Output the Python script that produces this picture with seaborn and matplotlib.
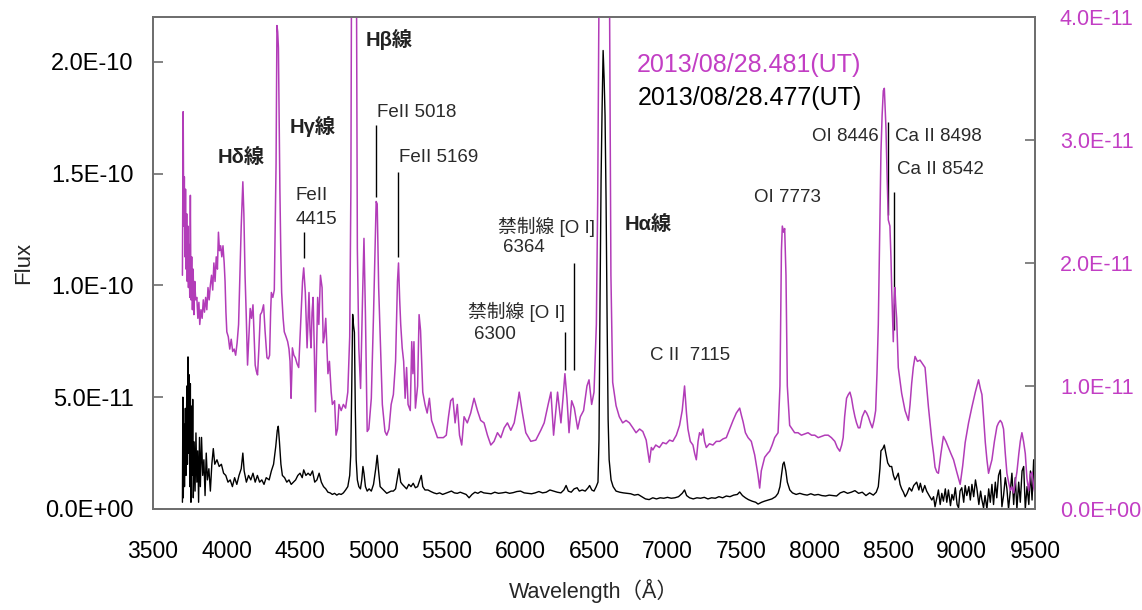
import numpy as np
import pandas as pd
import matplotlib
matplotlib.use("Agg")
import matplotlib.pyplot as plt
from matplotlib.ticker import FuncFormatter
import seaborn as sns

# ---- spectrum 2013/08/28.477 (UT), left axis, flux in units of 1e-11 ----
wl_477 = [
    3700, 3703, 3706, 3710, 3714, 3720, 3724, 3730, 3734, 3738, 3742, 3746, 3750, 3754,
    3758, 3762, 3766, 3770, 3774, 3780, 3786, 3792, 3798, 3804, 3810, 3816, 3822, 3830,
    3838, 3846, 3854, 3862, 3870, 3880, 3890, 3900, 3910, 3920, 3935, 3950, 3965, 3980,
    3995, 4010, 4025, 4040, 4055, 4070, 4085, 4100, 4111, 4120, 4135, 4150, 4165, 4180,
    4195, 4210, 4225, 4240, 4255, 4270, 4290, 4305, 4320, 4335, 4345, 4352, 4360, 4370,
    4380, 4395, 4410, 4425, 4440, 4455, 4470, 4485, 4500, 4515, 4525, 4540, 4555, 4570,
    4585, 4600, 4615, 4630, 4645, 4660, 4675, 4690, 4705, 4720, 4735, 4750, 4765, 4780,
    4795, 4810, 4825, 4838, 4845, 4852, 4858, 4864, 4870, 4876, 4882, 4890, 4900, 4911,
    4920, 4928, 4935, 4945, 4957, 4970, 4985, 5000, 5015, 5025, 5033, 5045, 5060, 5075,
    5090, 5105, 5120, 5135, 5150, 5163, 5173, 5185, 5196, 5210, 5225, 5240, 5255, 5270,
    5285, 5300, 5315, 5325, 5335, 5350, 5370, 5390, 5410, 5430, 5450, 5470, 5490, 5510,
    5530, 5550, 5570, 5590, 5610, 5630, 5650, 5670, 5690, 5710, 5730, 5750, 5775, 5800,
    5825, 5850, 5875, 5900, 5925, 5950, 5975, 6000, 6025, 6050, 6075, 6100, 6125, 6150,
    6175, 6200, 6225, 6250, 6275, 6295, 6310, 6325, 6345, 6365, 6385, 6400, 6420, 6440,
    6460, 6470, 6485, 6500, 6515, 6527, 6534, 6541, 6548, 6555, 6562, 6569, 6575, 6582,
    6589, 6596, 6603, 6616, 6630, 6650, 6675, 6700, 6725, 6750, 6775, 6800, 6825, 6850,
    6875, 6900, 6925, 6950, 6975, 7000, 7025, 7050, 7075, 7100, 7116, 7130, 7150, 7175,
    7200, 7225, 7250, 7275, 7300, 7325, 7350, 7375, 7400, 7425, 7450, 7475, 7491, 7510,
    7530, 7550, 7575, 7600, 7616, 7640, 7660, 7685, 7710, 7735, 7752, 7765, 7775, 7785,
    7793, 7805, 7815, 7832, 7850, 7875, 7900, 7925, 7950, 7975, 8000, 8025, 8050, 8075,
    8100, 8125, 8150, 8175, 8200, 8225, 8250, 8275, 8300, 8325, 8350, 8375, 8400, 8420,
    8434, 8445, 8452, 8465, 8475, 8485, 8498, 8512, 8525, 8537, 8548, 8560, 8570, 8582,
    8593, 8605, 8617, 8630, 8645, 8661, 8675, 8695, 8710, 8720, 8735, 8750, 8763, 8780,
    8798, 8810, 8820, 8832, 8843, 8855, 8866, 8877, 8890, 8900, 8911, 8925, 8935, 8946,
    8958, 8970, 8980, 8990, 9002, 9015, 9025, 9036, 9050, 9060, 9071, 9083, 9095, 9105,
    9118, 9130, 9139, 9150, 9160, 9173, 9185, 9196, 9207, 9218, 9230, 9240, 9252, 9264,
    9275, 9286, 9298, 9309, 9320, 9332, 9343, 9355, 9366, 9377, 9389, 9400, 9412, 9423,
    9434, 9446, 9458, 9469, 9480, 9491, 9500,
]
flux_477 = [
    0.3, 5.0, 0.5, 3.8, 1.0, 4.5, 1.5, 5.5, 2.0, 6.8, 2.5, 6.0, 1.0, 5.6,
    0.3, 4.6, 1.5, 4.9, 0.5, 3.0, 0.8, 3.4, 1.2, 2.6, 0.3, 3.2, 1.0, 3.2,
    1.5, 2.2, 0.6, 2.5, 1.3, 1.8, 0.8, 2.0, 2.7, 2.0, 2.2, 1.9, 2.0, 1.6,
    1.5, 1.2, 1.3, 1.0, 1.4, 1.1, 1.5, 1.8, 2.5, 1.7, 1.2, 1.5, 1.3, 1.6,
    1.2, 1.5, 1.2, 1.3, 1.1, 1.4, 1.3, 1.7, 2.0, 2.8, 3.5, 3.7, 3.0, 2.0,
    1.5, 1.4, 1.2, 1.3, 1.1, 1.2, 1.3, 1.5, 1.6, 1.4, 1.75, 1.5, 1.6, 1.5,
    1.7, 1.2, 1.3, 1.6, 1.2, 1.0, 0.9, 0.75, 0.72, 0.65, 0.70, 0.62, 0.68, 0.65,
    0.72, 0.85, 1.0, 1.5, 2.4, 5.5, 8.7, 8.2, 7.9, 4.5, 2.2, 1.3, 1.0, 0.9,
    1.3, 1.9, 1.6, 1.0, 0.8, 0.9, 0.8, 1.1, 1.8, 2.4, 1.8, 1.0, 0.9, 0.8,
    0.7, 0.75, 0.8, 0.8, 0.9, 1.4, 1.8, 1.2, 1.1, 1.0, 0.9, 1.1, 1.0, 1.15,
    0.95, 1.0, 1.3, 1.5, 1.0, 0.85, 0.85, 0.78, 0.72, 0.68, 0.72, 0.65, 0.7, 0.75,
    0.8, 0.72, 0.7, 0.75, 0.7, 0.65, 0.5, 0.65, 0.75, 0.7, 0.78, 0.72, 0.7, 0.68,
    0.75, 0.7, 0.72, 0.75, 0.7, 0.73, 0.78, 0.8, 0.72, 0.7, 0.68, 0.72, 0.78, 0.72,
    0.75, 0.85, 0.8, 0.75, 0.72, 0.85, 1.05, 0.8, 0.75, 0.9, 0.95, 0.8, 0.85, 0.8,
    0.95, 1.05, 0.85, 0.8, 1.0, 1.2, 3.1, 9.35, 14.7, 17.9, 20.5, 19.2, 17.6, 13.8,
    8.5, 4.0, 2.2, 1.3, 1.0, 0.8, 0.75, 0.72, 0.7, 0.68, 0.62, 0.65, 0.55, 0.45,
    0.42, 0.5, 0.45, 0.5, 0.48, 0.52, 0.48, 0.5, 0.55, 0.7, 0.85, 0.6, 0.5, 0.45,
    0.5, 0.48, 0.52, 0.45, 0.5, 0.48, 0.55, 0.5, 0.58, 0.55, 0.62, 0.65, 0.76, 0.6,
    0.5, 0.42, 0.35, 0.3, 0.22, 0.3, 0.35, 0.4, 0.45, 0.55, 0.7, 1.0, 1.5, 2.0,
    2.1, 1.7, 1.2, 0.85, 0.72, 0.65, 0.7, 0.65, 0.62, 0.68, 0.62, 0.65, 0.6, 0.58,
    0.62, 0.6, 0.58, 0.72, 0.78, 0.7, 0.75, 0.82, 0.7, 0.75, 0.6, 0.72, 0.62, 0.75,
    1.0, 1.8, 2.6, 2.7, 2.86, 2.5, 2.06, 1.9, 1.9, 1.5, 1.3, 1.45, 1.6, 1.1,
    0.9, 0.75, 0.55, 0.7, 0.95, 0.8, 1.05, 1.2, 0.85, 1.15, 0.75, 1.05, 0.8, 0.6,
    0.4, 0.55, 0.1, 0.5, 0.85, 0.2, 0.7, 0.35, 0.9, 0.3, 0.85, 0.15, 0.65, 0.4,
    0.95, 0.2, 0.05, 0.8, 0.95, 0.3, 1.05, 0.6, 1.0, 0.4, 1.1, 0.55, 1.3, 0.9,
    0.2, 0.8, 0.4, 0.05, 0.6, 0.0, 0.9, 0.3, 1.1, 0.2, 1.2, 0.5, 1.5, 1.75,
    0.1, 0.6, 1.4, 0.9, 0.0, 0.8, 1.6, 0.2, 1.4, 0.0, 1.2, 0.3, 1.7, 1.9,
    0.0, 1.0, 0.2, 1.7, 0.4, 2.2, 0.6,
]

# ---- spectrum 2013/08/28.481 (UT), right axis, flux in units of 1e-11 ----
wl_481 = [
    3700, 3705, 3709, 3713, 3717, 3721, 3725, 3729, 3733, 3737, 3741, 3745, 3750, 3754,
    3758, 3763, 3768, 3773, 3778, 3784, 3790, 3798, 3805, 3812, 3818, 3826, 3834, 3842,
    3850, 3858, 3866, 3874, 3882, 3890, 3898, 3906, 3914, 3922, 3930, 3938, 3945, 3952,
    3960, 3968, 3976, 3984, 3990, 3996, 4002, 4012, 4022, 4032, 4042, 4052, 4062, 4072,
    4082, 4090, 4100, 4111, 4118, 4126, 4134, 4143, 4152, 4161, 4170, 4180, 4188, 4195,
    4203, 4211, 4220, 4230, 4240, 4252, 4262, 4275, 4285, 4293, 4300, 4305, 4315, 4325,
    4332, 4337, 4343, 4348, 4353, 4358, 4363, 4369, 4375, 4385, 4393, 4405, 4416, 4425,
    4432, 4439, 4444, 4448, 4458, 4468, 4480, 4491, 4500, 4507, 4517, 4525, 4536, 4548,
    4561, 4568, 4575, 4582, 4589, 4597, 4605, 4612, 4620, 4628, 4639, 4650, 4658, 4665,
    4675, 4690, 4700, 4712, 4720, 4735, 4745, 4755, 4765, 4780, 4795, 4810, 4825, 4838,
    4846, 4852, 4858, 4868, 4880, 4886, 4890, 4900, 4912, 4925, 4935, 4945, 4957, 4968,
    4985, 5000, 5010, 5018, 5025, 5035, 5048, 5060, 5078, 5090, 5105, 5120, 5135, 5150,
    5163, 5170, 5178, 5185, 5195, 5205, 5215, 5225, 5235, 5250, 5260, 5268, 5275, 5285,
    5300, 5310, 5320, 5335, 5350, 5365, 5380, 5395, 5415, 5435, 5455, 5475, 5495, 5510,
    5525, 5540, 5555, 5570, 5585, 5600, 5616, 5638, 5661, 5684, 5707, 5729, 5752, 5775,
    5798, 5820, 5843, 5866, 5889, 5911, 5934, 5957, 5979, 5991, 6013, 6036, 6070, 6104,
    6138, 6161, 6188, 6207, 6225, 6252, 6275, 6289, 6302, 6316, 6330, 6348, 6366, 6389,
    6407, 6429, 6452, 6466, 6484, 6500, 6516, 6525, 6534, 6543, 6560, 6580, 6595, 6605,
    6615, 6627, 6650, 6672, 6695, 6718, 6741, 6764, 6786, 6810, 6832, 6855, 6877, 6890,
    6900, 6920, 6945, 6968, 6991, 7014, 7036, 7060, 7082, 7100, 7116, 7129, 7139, 7155,
    7173, 7185, 7196, 7208, 7218, 7230, 7241, 7252, 7264, 7285, 7309, 7332, 7355, 7378,
    7400, 7423, 7446, 7468, 7491, 7503, 7514, 7530, 7548, 7570, 7593, 7615, 7627, 7638,
    7661, 7680, 7695, 7712, 7729, 7752, 7765, 7775, 7781, 7790, 7797, 7806, 7815, 7831,
    7848, 7865, 7888, 7911, 7934, 7956, 7980, 8002, 8025, 8047, 8070, 8093, 8115, 8138,
    8155, 8172, 8185, 8195, 8205, 8218, 8230, 8241, 8252, 8263, 8275, 8286, 8298, 8309,
    8325, 8343, 8355, 8366, 8380, 8393, 8405, 8416, 8425, 8434, 8443, 8452, 8460, 8468,
    8475, 8481, 8486, 8494, 8502, 8513, 8520, 8525, 8531, 8536, 8542, 8547, 8553, 8559,
    8570, 8593, 8616, 8639, 8650, 8661, 8672, 8684, 8700, 8718, 8735, 8752, 8763, 8775,
    8786, 8798, 8810, 8820, 8832, 8843, 8860, 8877, 8894, 8911, 8928, 8946, 8968, 8991,
    9008, 9025, 9048, 9071, 9094, 9116, 9128, 9139, 9150, 9162, 9173, 9184, 9196, 9207,
    9224, 9241, 9252, 9264, 9275, 9286, 9298, 9309, 9320, 9332, 9343, 9355, 9366, 9377,
    9390, 9400, 9411, 9422, 9434, 9445, 9457, 9468, 9480, 9490, 9500,
]
flux_481 = [
    1.90, 3.23, 2.30, 2.70, 2.05, 2.60, 1.95, 2.40, 1.85, 2.30, 1.80, 2.15, 1.72, 2.55,
    1.70, 2.05, 1.62, 1.95, 1.58, 1.85, 1.70, 1.72, 1.55, 1.68, 1.50, 1.62, 1.55, 1.70,
    1.60, 1.72, 1.62, 1.80, 1.70, 1.82, 1.90, 1.78, 2.00, 1.85, 2.05, 1.95, 2.25, 2.10,
    2.14, 2.05, 2.14, 2.00, 1.85, 1.60, 1.44, 1.40, 1.30, 1.38, 1.28, 1.30, 1.25, 1.35,
    1.50, 1.85, 2.30, 2.66, 2.40, 1.90, 1.58, 1.17, 1.40, 1.63, 1.55, 1.66, 1.40, 1.17,
    1.12, 1.09, 1.30, 1.58, 1.60, 1.66, 1.45, 1.23, 1.22, 1.25, 1.60, 1.76, 1.72, 1.78,
    2.40, 2.80, 3.93, 3.88, 3.75, 3.20, 2.60, 2.10, 1.76, 1.55, 1.44, 1.40, 1.36, 1.30,
    1.20, 0.90, 1.10, 1.31, 1.25, 1.23, 1.18, 1.15, 1.40, 1.58, 1.85, 1.96, 1.76, 1.31,
    1.76, 1.45, 1.31, 1.60, 1.72, 1.30, 0.79, 1.25, 1.72, 1.50, 1.90, 1.80, 1.35, 1.40,
    1.55, 1.10, 1.20, 0.95, 0.85, 0.88, 0.60, 0.65, 0.85, 0.80, 0.85, 0.82, 0.95, 1.40,
    2.60, 5.00, 7.00, 7.00, 6.00, 3.50, 2.12, 1.31, 0.98, 1.70, 2.20, 1.58, 0.63, 0.65,
    0.90, 1.58, 2.10, 2.50, 2.48, 1.80, 1.31, 0.85, 0.63, 0.60, 0.65, 0.85, 0.93, 1.20,
    1.85, 2.00, 1.70, 1.50, 1.31, 1.20, 0.90, 1.15, 0.85, 0.80, 1.36, 1.10, 1.36, 0.82,
    1.00, 1.58, 1.45, 0.95, 0.85, 0.78, 0.90, 0.72, 0.65, 0.58, 0.58, 0.58, 0.60, 0.75,
    0.88, 0.90, 0.70, 0.85, 0.60, 0.52, 0.75, 0.70, 0.78, 0.90, 0.80, 0.72, 0.70, 0.60,
    0.52, 0.55, 0.62, 0.58, 0.66, 0.70, 0.64, 0.70, 0.85, 0.95, 0.78, 0.62, 0.55, 0.56,
    0.64, 0.70, 0.85, 0.95, 0.60, 0.95, 0.70, 0.90, 1.10, 0.90, 0.62, 0.88, 0.82, 0.65,
    0.75, 0.80, 1.00, 1.05, 0.85, 0.95, 1.50, 2.50, 4.20, 6.00, 7.00, 7.00, 5.50, 4.30,
    1.90, 1.03, 0.84, 0.75, 0.70, 0.72, 0.70, 0.66, 0.62, 0.65, 0.63, 0.56, 0.38, 0.50,
    0.48, 0.52, 0.50, 0.54, 0.53, 0.56, 0.55, 0.60, 0.68, 0.80, 1.00, 0.78, 0.65, 0.55,
    0.52, 0.45, 0.40, 0.55, 0.62, 0.60, 0.65, 0.55, 0.50, 0.53, 0.52, 0.55, 0.55, 0.57,
    0.58, 0.65, 0.72, 0.78, 0.82, 0.76, 0.71, 0.62, 0.58, 0.55, 0.44, 0.28, 0.17, 0.31,
    0.42, 0.45, 0.47, 0.52, 0.58, 0.62, 1.00, 2.10, 2.30, 2.25, 2.28, 1.90, 1.00, 0.68,
    0.65, 0.62, 0.62, 0.60, 0.61, 0.62, 0.60, 0.60, 0.58, 0.59, 0.60, 0.60, 0.58, 0.55,
    0.50, 0.47, 0.52, 0.58, 0.75, 0.90, 0.93, 0.95, 0.90, 0.82, 0.75, 0.70, 0.66, 0.66,
    0.75, 0.80, 0.78, 0.75, 0.70, 0.66, 0.72, 0.80, 1.10, 1.50, 2.20, 2.90, 3.20, 3.40,
    3.42, 3.25, 3.10, 2.70, 2.35, 2.30, 2.05, 1.80, 1.55, 1.36, 1.70, 1.80, 1.65, 1.55,
    1.15, 0.94, 0.80, 0.72, 0.85, 1.02, 1.15, 1.24, 1.20, 1.21, 1.18, 1.15, 1.00, 0.83,
    0.70, 0.56, 0.45, 0.34, 0.30, 0.29, 0.45, 0.59, 0.55, 0.50, 0.45, 0.40, 0.30, 0.20,
    0.35, 0.54, 0.70, 0.83, 0.95, 1.05, 0.98, 0.93, 0.75, 0.54, 0.40, 0.29, 0.35, 0.40,
    0.55, 0.67, 0.70, 0.72, 0.70, 0.65, 0.45, 0.29, 0.22, 0.15, 0.18, 0.13, 0.22, 0.30,
    0.45, 0.55, 0.62, 0.55, 0.45, 0.25, 0.15, 0.28, 0.30, 0.18, 0.13,
]

x_ticks = [3500, 4000, 4500, 5000, 5500, 6000, 6500, 7000, 7500, 8000, 8500, 9000, 9500]
left_ticks = [0.0, 5e-11, 1e-10, 1.5e-10, 2e-10]
right_ticks = [0.0, 1e-11, 2e-11, 3e-11, 4e-11]
date_477 = "2013/08/28.477(UT)"
date_481 = "2013/08/28.481(UT)"

SCALE = 1e-11
MAGENTA_LINE = "#b23cb8"
MAGENTA_TEXT = "#c23ec4"
SPINE = "#6e6e6e"

sns.set_style("white")
plt.rcParams["font.family"] = ["Liberation Sans", "Noto Sans CJK JP", "DejaVu Sans"]

fig = plt.figure(figsize=(11.42, 6.10), dpi=100)
ax = fig.add_axes([0.134, 0.1656, 0.7723, 0.8066])
ax2 = ax.twinx()

df_477 = pd.DataFrame({"wavelength": wl_477, "flux": np.array(flux_477) * SCALE})
df_481 = pd.DataFrame({"wavelength": wl_481, "flux": np.array(flux_481) * SCALE})

sns.lineplot(data=df_477, x="wavelength", y="flux", ax=ax, color="black",
             linewidth=1.0, estimator=None, sort=False, legend=False)
sns.lineplot(data=df_481, x="wavelength", y="flux", ax=ax2, color=MAGENTA_LINE,
             linewidth=1.1, estimator=None, sort=False, legend=False)

ax.set_xlim(3500, 9500)
ax.set_ylim(0, 2.2e-10)
ax2.set_ylim(0, 4.0e-11)

sci = FuncFormatter(lambda v, _: f"{v:.1E}")
ax.set_xticks(x_ticks)
ax.set_yticks(left_ticks)
ax2.set_yticks(right_ticks)
ax.yaxis.set_major_formatter(sci)
ax2.yaxis.set_major_formatter(sci)

ax.tick_params(axis="x", direction="in", length=7, width=1.2, color=SPINE,
               labelsize=16.5, pad=22, labelcolor="black")
ax.tick_params(axis="y", direction="in", length=7, width=1.2, color=SPINE,
               labelsize=17, pad=14, labelcolor="black", right=False)
ax2.tick_params(axis="y", direction="in", length=7, width=1.2, color=SPINE,
                labelsize=15.5, pad=18, labelcolor=MAGENTA_TEXT, left=False)

for a in (ax, ax2):
    for s in a.spines.values():
        s.set_color(SPINE)
        s.set_linewidth(1.3)
        s.set_visible(True)

ax.set_xlabel("Wavelength（Å）", fontsize=15.5, labelpad=12)
ax.set_ylabel("Flux", fontsize=16, labelpad=8)
ax2.set_ylabel("")

# line identifications (left-axis data coordinates)
ANN = "#2a2a2a"
def label(x, y, s, ha="left", size=13.5, color=ANN, **kw):
    ax.text(x, y * SCALE, s, ha=ha, va="center", fontsize=size, color=color, **kw)

for x, y, s in [(4100, 15.70, "Hδ線"), (4584, 17.09, "Hγ線"),
                (5109, 20.98, "Hβ線"), (6868, 12.71, "Hα線")]:
    label(x, y, s, ha="center", size=14.5, color="#222222", fontweight="bold")
label(4468, 14.00, "FeII")
label(4468, 12.93, "4415")
label(5027, 17.72, "FeII 5018")
label(5170, 15.70, "FeII 5169")
label(5845, 12.62, "禁制線 [O I]")
label(5880, 11.68, "6364")
label(5641, 8.81, "禁制線 [O I]")
label(5682, 7.79, "6300")
label(6882, 6.85, "C II  7115")
label(7591, 13.91, "OI 7773")
label(7980, 16.64, "OI 8446")
label(8545, 16.64, "Ca II 8498")
label(8559, 15.17, "Ca II 8542")
label(8320, 19.87, date_481, ha="right", size=18, color=MAGENTA_TEXT)
label(8320, 18.39, date_477, ha="right", size=18, color="black")

markers = [
    (4525, 11.23, 12.39),
    (5018, 13.96, 17.18),
    (5169, 11.28, 15.08),
    (6300, 6.22, 7.92),
    (6364, 6.22, 11.01),
    (8498, 13.15, 17.30),
    (8542, 8.00, 14.18),
]
for wl, lo, hi in markers:
    ax.vlines(wl, lo * SCALE, hi * SCALE, color="black", linewidth=1.0, zorder=5)

fig.savefig("out.png", dpi=100, facecolor="white")
